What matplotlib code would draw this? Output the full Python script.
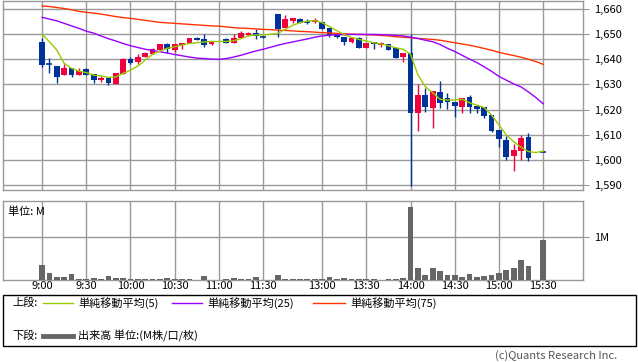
import matplotlib
matplotlib.use('Agg')
import matplotlib.pyplot as plt
from matplotlib.lines import Line2D
from matplotlib.patches import Rectangle

plt.rcParams['font.family'] = ['Noto Sans CJK JP', 'DejaVu Sans']

# 5-minute bars, index 0 = 9:00, gaps at lunch (31) and 15:25 (67)
OPEN = [1647.0, 1638.1, 1637.3, 1633.9, 1636.4, 1633.9, 1636.0, 1634.1, 1631.6, 1632.6,
        1630.3, 1634.1, 1640.1, 1638.8, 1641.0, 1642.1, 1643.7, 1646.1, 1643.7, 1645.7,
        1646.5, 1648.5, 1647.9, 1646.0, None, 1648.1, 1646.3, 1648.6, 1649.5, 1650.5,
        1648.8, None, 1658.0, 1652.4, 1655.2, 1656.2, 1655.3, 1654.7, 1654.8, 1652.4,
        1650.2, 1649.0, 1646.7, 1648.6, 1644.6, 1646.7, 1645.8, 1646.1, 1644.6, 1640.8,
        1642.6, 1618.8, 1625.8, 1620.8, 1627.0, 1624.5, 1623.0, 1621.2, 1625.0, 1621.4,
        1621.0, 1617.8, 1611.9, 1607.9, 1601.7, 1603.7, 1609.2, None, 1603.0]
HIGH = [1648.3, 1640.4, 1637.3, 1638.1, 1636.4, 1636.5, 1636.4, 1634.1, 1633.5, 1632.6,
        1634.5, 1640.5, 1641.0, 1642.1, 1643.0, 1644.6, 1646.1, 1646.6, 1646.1, 1646.5,
        1648.5, 1648.9, 1650.2, 1647.1, None, 1648.6, 1650.2, 1651.2, 1650.8, 1652.0,
        1648.8, None, 1658.0, 1657.6, 1656.4, 1656.6, 1656.1, 1656.6, 1654.8, 1652.4,
        1650.2, 1649.0, 1648.5, 1649.0, 1646.6, 1646.7, 1646.9, 1646.1, 1644.6, 1642.6,
        1649.9, 1630.0, 1628.7, 1627.4, 1631.4, 1626.5, 1623.0, 1624.5, 1625.8, 1621.4,
        1621.0, 1617.8, 1611.9, 1609.6, 1606.4, 1609.9, 1610.8, None, 1603.0]
LOW = [1637.1, 1634.7, 1630.7, 1633.9, 1633.1, 1633.9, 1633.9, 1630.7, 1631.1, 1629.9,
       1630.3, 1634.1, 1638.0, 1638.1, 1641.0, 1642.1, 1643.7, 1642.4, 1643.1, 1644.2,
       1646.5, 1647.7, 1645.0, 1645.6, None, 1646.4, 1646.3, 1648.6, 1649.3, 1648.0,
       1648.6, None, 1648.7, 1652.4, 1654.6, 1654.3, 1653.9, 1654.3, 1652.0, 1649.0,
       1648.6, 1645.8, 1646.3, 1644.6, 1644.6, 1644.2, 1645.0, 1643.8, 1640.6, 1639.0,
       1589.6, 1611.6, 1619.2, 1612.8, 1620.8, 1620.2, 1616.9, 1618.8, 1618.8, 1618.8,
       1616.5, 1611.2, 1605.2, 1600.0, 1595.7, 1600.0, 1599.7, None, 1603.0]
CLOSE = [1637.9, 1638.0, 1633.1, 1636.5, 1633.9, 1635.3, 1633.9, 1631.8, 1632.6, 1630.7,
         1634.5, 1640.1, 1638.5, 1640.9, 1642.6, 1644.1, 1646.1, 1644.1, 1646.1, 1646.5,
         1648.5, 1647.7, 1645.7, 1647.1, None, 1646.6, 1648.5, 1650.6, 1650.6, 1649.3,
         1648.7, None, 1652.0, 1656.0, 1656.4, 1654.3, 1655.0, 1655.6, 1652.0, 1649.5,
         1649.0, 1647.0, 1648.5, 1644.6, 1646.6, 1646.2, 1646.5, 1643.8, 1640.6, 1642.6,
         1618.8, 1625.8, 1621.2, 1627.4, 1622.5, 1623.1, 1621.4, 1624.5, 1621.2, 1620.2,
         1617.6, 1611.6, 1608.4, 1601.3, 1603.8, 1608.6, 1600.9, None, 1603.0]

MA5 = [1650.0, 1647.0, 1643.7, 1638.4, 1636.4, 1635.3, 1634.7, 1633.7, 1633.4, 1632.8,
       1633.0, 1634.4, 1635.7, 1637.3, 1639.7, 1642.0, 1643.3, 1644.4, 1645.0, 1645.7,
       1646.3, 1646.6, 1646.9, 1647.1, 1647.1, 1647.1, 1647.4, 1648.2, 1649.4, 1649.7,
       1649.7, 1650.0, 1650.3, 1652.0, 1653.5, 1654.6, 1655.2, 1655.4, 1654.6, 1653.0,
       1651.4, 1649.8, 1648.7, 1647.9, 1647.3, 1646.6, 1646.1, 1645.4, 1644.6, 1644.0,
       1642.0, 1633.8, 1629.1, 1626.7, 1624.1, 1623.8, 1623.8, 1624.1, 1622.7, 1621.8,
       1620.8, 1617.8, 1613.9, 1609.9, 1607.2, 1605.0, 1603.3, 1602.9, 1603.5]
MA25 = [1656.7, 1656.0, 1655.3, 1654.3, 1653.3, 1652.3, 1651.2, 1650.4, 1649.3, 1648.2,
        1647.3, 1646.3, 1645.4, 1644.7, 1644.0, 1643.5, 1643.0, 1642.5, 1641.9, 1641.4,
        1640.9, 1640.5, 1640.3, 1640.1, 1640.0, 1640.3, 1640.9, 1641.6, 1642.5, 1643.3,
        1644.0, 1644.8, 1645.6, 1646.3, 1646.9, 1647.5, 1648.1, 1648.8, 1649.3, 1649.6,
        1649.8, 1649.8, 1649.9, 1649.9, 1649.9, 1649.9, 1649.8, 1649.7, 1649.5, 1649.3,
        1648.8, 1648.3, 1647.6, 1647.0, 1645.9, 1644.4, 1643.1, 1641.6, 1640.1, 1638.7,
        1637.0, 1635.2, 1633.2, 1631.7, 1630.2, 1629.0, 1627.0, 1624.8, 1622.3]
MA75 = [1661.2, 1661.0, 1660.6, 1660.2, 1659.7, 1659.1, 1658.7, 1658.4, 1658.0, 1657.5,
        1657.0, 1656.6, 1656.3, 1655.9, 1655.5, 1655.1, 1654.7, 1654.5, 1654.3, 1654.1,
        1653.9, 1653.7, 1653.5, 1653.3, 1653.2, 1652.9, 1652.6, 1652.4, 1652.3, 1652.1,
        1651.9, 1651.8, 1651.6, 1651.5, 1651.3, 1651.1, 1651.0, 1650.8, 1650.6, 1650.5,
        1650.3, 1650.1, 1650.0, 1649.9, 1649.8, 1649.7, 1649.5, 1649.3, 1649.0, 1648.8,
        1648.6, 1648.3, 1648.1, 1647.9, 1647.6, 1647.1, 1646.6, 1646.1, 1645.6, 1645.0,
        1644.3, 1643.6, 1642.8, 1642.1, 1641.5, 1640.8, 1640.0, 1639.1, 1638.0]

# volume in millions
VOLUME = [0.36, 0.16, 0.07, 0.07, 0.15, 0.023, 0.023, 0.047, 0.023, 0.094,
          0.047, 0.047, 0.023, 0.023, 0.023, 0.023, 0.023, 0.047, 0.023, 0.023,
          0.023, 0.005, 0.094, 0.01, 0.005, 0.023, 0.04, 0.023, 0.023, 0.07,
          0.005, 0.0, 0.117, 0.023, 0.023, 0.023, 0.023, 0.023, 0.023, 0.07,
          0.023, 0.047, 0.023, 0.023, 0.023, 0.023, 0.005, 0.023, 0.023, 0.047,
          1.72, 0.28, 0.12, 0.28, 0.21, 0.12, 0.12, 0.07, 0.15, 0.07,
          0.094, 0.12, 0.17, 0.23, 0.28, 0.47, 0.33, 0.0, 0.94]

TICK_POS = [0, 6, 12, 18, 24, 30, 38, 44, 50, 56, 62, 68]
TICK_LABELS = ['9:00', '9:30', '10:00', '10:30', '11:00', '11:30',
               '13:00', '13:30', '14:00', '14:30', '15:00', '15:30']
PRICE_TICKS = [1590, 1600, 1610, 1620, 1630, 1640, 1650, 1660]

UP = '#f0003c'
DOWN = '#003399'
GRID = '#999999'

W, H = 638, 362
fig = plt.figure(figsize=(W / 100, H / 100), dpi=100)


def px_axes(left, top, right, bottom):
    return fig.add_axes([left / W, 1 - bottom / H, (right - left) / W, (bottom - top) / H])


def style_axes(ax):
    for sp in ax.spines.values():
        sp.set_color(GRID)
        sp.set_linewidth(1)
    ax.set_xlim(-5.3, 73.4)
    ax.set_xticks(TICK_POS)
    ax.grid(True, color=GRID, linewidth=1)
    ax.set_axisbelow(True)
    ax.yaxis.tick_right()
    ax.tick_params(axis='y', length=4, color=GRID, pad=4, labelsize=8)
    ax.tick_params(axis='x', length=0)


# price panel
ax = px_axes(3, 1, 583, 190)
style_axes(ax)
ax.set_ylim(1588.0, 1663.2)
ax.set_yticks(PRICE_TICKS)
ax.set_yticklabels(['{:,}'.format(p) for p in PRICE_TICKS])
ax.set_xticklabels([])

for i, (o, h, l, c) in enumerate(zip(OPEN, HIGH, LOW, CLOSE)):
    if o is None:
        continue
    col = UP if c > o else DOWN
    ax.vlines(i, l, h, color=col, linewidth=1, zorder=3)
    if abs(c - o) < 0.3:
        ax.hlines(c, i - 0.4, i + 0.4, color=col, linewidth=1.2, zorder=4)
    else:
        ax.bar(i, abs(c - o), bottom=min(o, c), width=0.78, color=col, zorder=4)

x = list(range(len(MA5)))
ax.plot(x, MA75, color='#ff3300', linewidth=1, zorder=5)
ax.plot(x, MA25, color='#9900ff', linewidth=1, zorder=5)
ax.plot(x, MA5, color='#99cc00', linewidth=1, zorder=5)

# volume panel
axv = px_axes(3, 201, 583, 280)
style_axes(axv)
axv.set_ylim(0, 1.85)
axv.set_yticks([1])
axv.set_yticklabels(['1M'])
axv.set_xticklabels(TICK_LABELS, fontsize=8)
axv.tick_params(axis='x', pad=1)
axv.bar(range(len(VOLUME)), VOLUME, width=0.78, color='#666666', zorder=3)
axv.text(5 / 580, 0.93, '単位: M', transform=axv.transAxes, fontsize=8,
         va='top', ha='left', zorder=6)

# legend box
fig.patches.append(Rectangle((3 / W, 1 - 346 / H), 633 / W, 51 / H, transform=fig.transFigure,
                             fill=False, edgecolor='black', linewidth=1))


def leg_line(x0, x1, y, color, lw):
    fig.lines.append(Line2D([x0 / W, x1 / W], [1 - y / H, 1 - y / H],
                            transform=fig.transFigure, color=color, linewidth=lw))


def leg_text(x0, y, s):
    fig.text(x0 / W, 1 - y / H, s, fontsize=8, va='center', ha='left')


leg_text(12, 303, '上段:')
leg_line(43, 73, 303, '#99cc00', 1)
leg_text(78, 303, '単純移動平均(5)')
leg_line(172, 202, 303, '#9900ff', 1)
leg_text(207, 303, '単純移動平均(25)')
leg_line(313, 345, 303, '#ff3300', 1)
leg_text(350, 303, '単純移動平均(75)')
leg_text(12, 336, '下段:')
leg_line(43, 73, 336, '#666666', 3.5)
leg_text(78, 336, '出来高 単位:(M株/口/枚)')

fig.text(617 / W, 1 - 356 / H, '(c)Quants Research Inc.', fontsize=8, color='#555555',
         ha='right', va='center')

fig.savefig('out.png', dpi=100)
